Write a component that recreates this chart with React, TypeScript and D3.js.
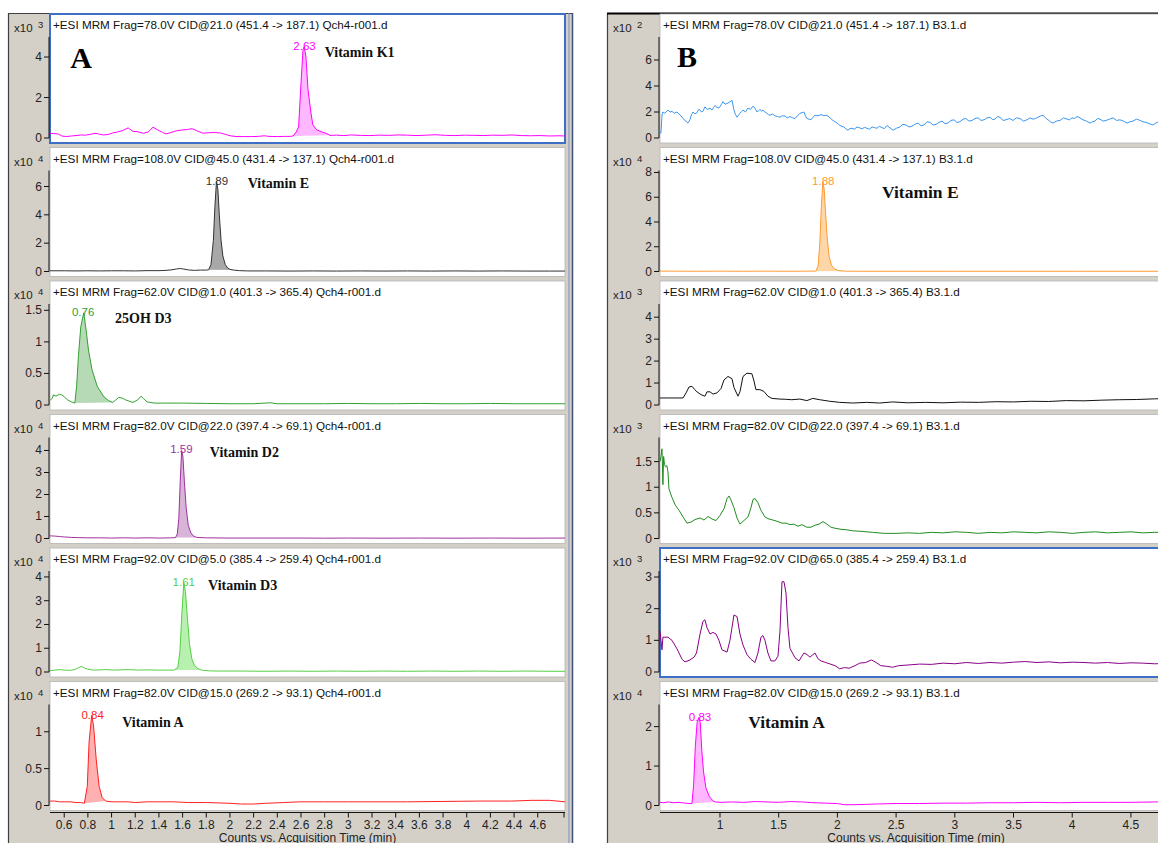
import React from 'react';
import * as d3 from 'd3';

type Pt = [number, number];

// ---------- values ----------
const headersA = [
  '+ESI MRM Frag=78.0V CID@21.0 (451.4 -> 187.1) Qch4-r001.d',
  '+ESI MRM Frag=108.0V CID@45.0 (431.4 -> 137.1) Qch4-r001.d',
  '+ESI MRM Frag=62.0V CID@1.0 (401.3 -> 365.4) Qch4-r001.d',
  '+ESI MRM Frag=82.0V CID@22.0 (397.4 -> 69.1) Qch4-r001.d',
  '+ESI MRM Frag=92.0V CID@5.0 (385.4 -> 259.4) Qch4-r001.d',
  '+ESI MRM Frag=82.0V CID@15.0 (269.2 -> 93.1) Qch4-r001.d',
];
const headersB = [
  '+ESI MRM Frag=78.0V CID@21.0 (451.4 -> 187.1) B3.1.d',
  '+ESI MRM Frag=108.0V CID@45.0 (431.4 -> 137.1) B3.1.d',
  '+ESI MRM Frag=62.0V CID@1.0 (401.3 -> 365.4) B3.1.d',
  '+ESI MRM Frag=82.0V CID@22.0 (397.4 -> 69.1) B3.1.d',
  '+ESI MRM Frag=92.0V CID@65.0 (385.4 -> 259.4) B3.1.d',
  '+ESI MRM Frag=82.0V CID@15.0 (269.2 -> 93.1) B3.1.d',
];

const expA = [3, 4, 4, 4, 4, 4];
const expB = [2, 4, 3, 3, 3, 4];
const yMaxA = [4.99, 7.13, 1.6, 4.59, 4.25, 1.37];
const yMaxB = [7.77, 8.16, 4.6, 1.97, 3.19, 2.56];
const yTicksA = [[0, 2, 4], [0, 2, 4, 6], [0, 0.5, 1, 1.5], [0, 1, 2, 3, 4], [0, 1, 2, 3, 4], [0, 0.5, 1]];
const yTicksB = [[0, 2, 4, 6], [0, 2, 4, 6, 8], [0, 1, 2, 3, 4], [0, 0.5, 1, 1.5], [0, 1, 2, 3], [0, 1, 2]];
const timeTicksA = [0.6, 0.8, 1, 1.2, 1.4, 1.6, 1.8, 2, 2.2, 2.4, 2.6, 2.8, 3, 3.2, 3.4, 3.6, 3.8, 4, 4.2, 4.4, 4.6];
const timeTicksB = [1, 1.5, 2, 2.5, 3, 3.5, 4, 4.5];

const rtA = ['2.63', '1.89', '0.76', '1.59', '1.61', '0.84'];
const windowA: Pt[] = [[2.533, 2.844], [1.82, 2.03], [0.69, 1.01], [1.54, 1.72], [1.53, 1.76], [0.77, 0.95]];
const compoundA = ['Vitamin K1', 'Vitamin E', '25OH D3', 'Vitamin D2', 'Vitamin D3', 'Vitamin A'];
const rtB = [null, '1.88', null, null, null, '0.83'];
const windowB: (Pt | null)[] = [null, [1.815, 2.06], null, null, null, [0.761, 0.96]];
const compoundB = [null, 'Vitamin E', null, null, null, 'Vitamin A'];

// counts vs time (min), y in units of the row's x10^n
const traceA1: Pt[] = [[0.48,0.23],[0.51,0.22],[0.55,0.2],[0.58,0.1],[0.62,0.07],[0.66,0.1],[0.70,0.12],[0.74,0.15],[0.78,0.14],[0.82,0.18],[0.86,0.23],[0.89,0.2],[0.93,0.15],[0.97,0.17],[1.01,0.25],[1.05,0.3],[1.09,0.36],[1.14,0.5],[1.18,0.33],[1.22,0.31],[1.27,0.23],[1.31,0.3],[1.35,0.53],[1.39,0.4],[1.43,0.28],[1.46,0.2],[1.50,0.27],[1.55,0.36],[1.60,0.4],[1.64,0.42],[1.68,0.46],[1.72,0.36],[1.77,0.24],[1.82,0.26],[1.87,0.27],[1.92,0.25],[1.96,0.18],[2.01,0.1],[2.06,0.07],[2.12,0.07],[2.18,0.07],[2.24,0.08],[2.29,0.11],[2.33,0.08],[2.40,0.07],[2.46,0.08],[2.51,0.08],[2.533,0.1],[2.56,0.3],[2.58,0.55],[2.60,2.7],[2.617,4.35],[2.628,4.5],[2.642,4.0],[2.659,2.4],[2.684,1.25],[2.70,0.65],[2.734,0.4],[2.776,0.3],[2.818,0.22],[2.844,0.13],[2.9,0.14],[2.96,0.12],[3.02,0.15],[3.1,0.13],[3.18,0.12],[3.26,0.14],[3.34,0.13],[3.42,0.15],[3.5,0.14],[3.58,0.12],[3.66,0.14],[3.74,0.16],[3.82,0.13],[3.9,0.12],[3.98,0.14],[4.06,0.13],[4.14,0.12],[4.22,0.14],[4.3,0.13],[4.38,0.15],[4.46,0.12],[4.54,0.11],[4.62,0.12],[4.7,0.1],[4.78,0.11],[4.83,0.1]];
const traceA2: Pt[] = [[0.48,0.05],[0.6,0.05],[0.7,0.04],[0.8,0.05],[0.9,0.04],[1.0,0.05],[1.1,0.05],[1.2,0.04],[1.3,0.06],[1.4,0.06],[1.46,0.08],[1.51,0.12],[1.55,0.18],[1.58,0.21],[1.61,0.17],[1.65,0.11],[1.7,0.08],[1.75,0.1],[1.8,0.1],[1.82,0.12],[1.84,0.5],[1.86,2.2],[1.873,4.6],[1.886,6.35],[1.898,5.8],[1.91,4.0],[1.925,2.2],[1.94,1.1],[1.96,0.5],[1.98,0.25],[2.0,0.15],[2.03,0.1],[2.08,0.06],[2.15,0.04],[2.3,0.04],[2.5,0.03],[2.7,0.04],[2.9,0.03],[3.1,0.04],[3.3,0.03],[3.5,0.04],[3.7,0.03],[3.9,0.04],[4.1,0.03],[4.3,0.04],[4.5,0.03],[4.7,0.03],[4.83,0.03]];
const traceA3: Pt[] = [[0.48,0.07],[0.5,0.11],[0.51,0.16],[0.53,0.14],[0.56,0.17],[0.58,0.16],[0.6,0.13],[0.63,0.08],[0.66,0.05],[0.69,0.03],[0.705,0.3],[0.72,0.77],[0.74,1.24],[0.765,1.46],[0.785,1.19],[0.805,0.87],[0.835,0.56],[0.88,0.29],[0.935,0.13],[0.975,0.07],[1.01,0.04],[1.035,0.08],[1.06,0.12],[1.09,0.11],[1.12,0.08],[1.18,0.04],[1.22,0.08],[1.25,0.14],[1.27,0.1],[1.30,0.05],[1.36,0.03],[1.45,0.03],[1.6,0.03],[1.8,0.025],[2.0,0.02],[2.2,0.02],[2.34,0.035],[2.4,0.02],[2.6,0.02],[2.8,0.02],[3.0,0.025],[3.2,0.02],[3.4,0.02],[3.6,0.025],[3.8,0.02],[4.0,0.02],[4.2,0.025],[4.4,0.02],[4.6,0.02],[4.83,0.02]];
const traceA4: Pt[] = [[0.48,0.12],[0.52,0.11],[0.56,0.09],[0.6,0.07],[0.66,0.05],[0.72,0.04],[0.8,0.03],[0.9,0.03],[1.0,0.02],[1.1,0.03],[1.2,0.02],[1.3,0.03],[1.4,0.02],[1.5,0.03],[1.54,0.04],[1.555,0.2],[1.568,0.9],[1.58,2.6],[1.592,4.0],[1.603,3.7],[1.615,2.6],[1.63,1.4],[1.648,0.6],[1.67,0.25],[1.695,0.1],[1.72,0.05],[1.8,0.03],[2.0,0.02],[2.2,0.02],[2.4,0.02],[2.6,0.02],[2.8,0.015],[3.0,0.02],[3.3,0.015],[3.6,0.02],[3.9,0.015],[4.2,0.02],[4.5,0.015],[4.83,0.02]];
const traceA5: Pt[] = [[0.48,0.06],[0.52,0.08],[0.56,0.1],[0.6,0.08],[0.65,0.07],[0.69,0.1],[0.72,0.18],[0.745,0.24],[0.77,0.17],[0.8,0.12],[0.84,0.08],[0.9,0.09],[0.96,0.1],[1.02,0.08],[1.08,0.09],[1.15,0.1],[1.22,0.08],[1.3,0.09],[1.38,0.08],[1.46,0.08],[1.53,0.08],[1.56,0.2],[1.578,0.9],[1.593,2.4],[1.61,3.75],[1.624,3.4],[1.64,2.3],[1.658,1.2],[1.678,0.55],[1.70,0.28],[1.73,0.14],[1.76,0.08],[1.82,0.05],[1.9,0.04],[2.1,0.04],[2.3,0.03],[2.5,0.04],[2.7,0.03],[2.9,0.04],[3.1,0.03],[3.3,0.04],[3.5,0.03],[3.7,0.04],[3.9,0.03],[4.1,0.04],[4.3,0.03],[4.5,0.04],[4.7,0.03],[4.83,0.03]];
const traceA6: Pt[] = [[0.48,0.06],[0.52,0.06],[0.56,0.05],[0.6,0.05],[0.65,0.05],[0.7,0.04],[0.74,0.04],[0.77,0.03],[0.795,0.26],[0.81,0.86],[0.832,1.22],[0.848,1.08],[0.87,0.63],[0.895,0.26],[0.92,0.11],[0.95,0.06],[1.0,0.05],[1.08,0.05],[1.14,0.05],[1.2,0.04],[1.3,0.05],[1.4,0.05],[1.52,0.05],[1.65,0.04],[1.8,0.04],[2.0,0.03],[2.09,0.02],[2.2,0.02],[2.3,0.03],[2.45,0.04],[2.59,0.05],[2.8,0.05],[3.0,0.05],[3.2,0.05],[3.5,0.05],[3.8,0.055],[4.1,0.06],[4.38,0.06],[4.55,0.07],[4.7,0.07],[4.83,0.05]];

const traceB1: Pt[] = [[0.489,0.4],[0.497,0.38],[0.506,1.77],[0.514,2.0],[0.53,1.9],[0.557,2.15],[0.575,2.0],[0.591,2.05],[0.61,1.9],[0.634,2.0],[0.65,1.85],[0.668,1.7],[0.685,1.5],[0.702,1.35],[0.727,1.15],[0.744,1.4],[0.757,1.8],[0.77,2.0],[0.787,1.85],[0.804,1.95],[0.818,2.2],[0.83,2.15],[0.843,2.0],[0.855,2.05],[0.872,2.4],[0.885,2.25],[0.898,2.2],[0.915,2.3],[0.932,2.15],[0.945,2.35],[0.957,2.5],[0.975,2.35],[0.991,2.3],[1.01,2.55],[1.026,2.8],[1.043,2.6],[1.06,2.65],[1.08,2.75],[1.102,2.9],[1.119,2.15],[1.132,1.8],[1.145,1.6],[1.158,1.75],[1.17,1.9],[1.185,2.05],[1.196,2.15],[1.217,2.0],[1.238,2.3],[1.26,2.2],[1.281,2.45],[1.298,2.3],[1.315,2.0],[1.33,2.1],[1.341,2.2],[1.355,2.05],[1.366,2.15],[1.383,2.0],[1.4,1.9],[1.413,1.8],[1.426,1.75],[1.447,1.85],[1.468,1.7],[1.49,1.65],[1.511,1.6],[1.532,1.72],[1.554,1.68],[1.575,1.55],[1.596,1.65],[1.618,1.55],[1.639,1.5],[1.66,1.7],[1.681,1.9],[1.7,1.95],[1.716,2.0],[1.728,1.7],[1.741,1.5],[1.758,1.45],[1.775,1.4],[1.792,1.6],[1.809,1.75],[1.835,1.7],[1.86,1.8],[1.885,1.72],[1.911,1.75],[1.937,1.55],[1.962,1.35],[1.98,1.25],[1.997,1.15],[2.01,1.05],[2.022,0.96],[2.04,0.9],[2.056,0.85],[2.073,0.7],[2.09,0.6],[2.107,0.72],[2.124,0.75],[2.145,0.68],[2.167,0.85],[2.19,0.78],[2.21,0.7],[2.23,0.82],[2.252,0.75],[2.273,0.68],[2.295,0.85],[2.316,0.8],[2.337,0.75],[2.358,0.9],[2.38,0.8],[2.4,0.72],[2.422,0.96],[2.448,0.78],[2.474,0.6],[2.503,0.75],[2.533,0.85],[2.558,1.05],[2.584,1.0],[2.61,0.85],[2.635,0.9],[2.66,1.05],[2.687,1.15],[2.712,0.95],[2.738,1.0],[2.763,1.25],[2.789,1.2],[2.815,1.0],[2.84,1.05],[2.865,1.2],[2.891,1.3],[2.917,1.1],[2.942,1.15],[2.968,1.35],[2.993,1.4],[3.018,1.2],[3.044,1.25],[3.07,1.45],[3.095,1.5],[3.12,1.3],[3.147,1.35],[3.172,1.5],[3.198,1.55],[3.223,1.35],[3.249,1.4],[3.275,1.55],[3.3,1.6],[3.32,1.42],[3.342,1.45],[3.363,1.65],[3.385,1.6],[3.41,1.35],[3.436,1.4],[3.466,1.5],[3.496,1.35],[3.525,1.55],[3.555,1.5],[3.585,1.3],[3.615,1.4],[3.64,1.55],[3.666,1.45],[3.688,1.5],[3.709,1.6],[3.73,1.7],[3.751,1.75],[3.772,1.55],[3.794,1.4],[3.815,1.25],[3.836,1.15],[3.866,1.3],[3.896,1.35],[3.926,1.55],[3.956,1.45],[3.977,1.4],[3.998,1.55],[4.02,1.5],[4.041,1.65],[4.066,1.55],[4.092,1.4],[4.122,1.3],[4.152,1.15],[4.173,1.25],[4.194,1.3],[4.215,1.5],[4.237,1.45],[4.262,1.3],[4.288,1.35],[4.318,1.45],[4.348,1.55],[4.378,1.35],[4.407,1.4],[4.437,1.3],[4.467,1.15],[4.492,1.25],[4.518,1.3],[4.548,1.45],[4.578,1.35],[4.603,1.25],[4.629,1.2],[4.658,1.1],[4.688,1.0],[4.705,1.1],[4.722,1.2],[4.745,1.25],[4.765,1.1],[4.85,1.15]];
const traceB2: Pt[] = [[0.489,0.03],[0.6,0.03],[0.8,0.02],[1.0,0.03],[1.2,0.02],[1.4,0.03],[1.6,0.02],[1.75,0.03],[1.815,0.03],[1.835,0.4],[1.85,2.2],[1.863,5.2],[1.876,7.25],[1.888,6.6],[1.9,4.6],[1.915,2.5],[1.93,1.2],[1.95,0.5],[1.975,0.2],[2.01,0.08],[2.06,0.03],[2.2,0.02],[2.5,0.02],[3.0,0.02],[3.5,0.02],[4.0,0.02],[4.5,0.02],[4.85,0.02]];
const traceB3: Pt[] = [[0.489,0.32],[0.507,0.32],[0.55,0.32],[0.6,0.32],[0.65,0.32],[0.685,0.32],[0.711,0.55],[0.736,0.82],[0.762,0.85],[0.785,0.7],[0.804,0.6],[0.83,0.5],[0.847,0.45],[0.872,0.4],[0.889,0.6],[0.915,0.6],[0.94,0.5],[0.974,0.55],[1.009,0.75],[1.034,1.14],[1.068,1.3],[1.102,1.2],[1.119,0.8],[1.153,0.4],[1.17,0.6],[1.196,1.3],[1.23,1.45],[1.272,1.42],[1.289,1.1],[1.306,0.7],[1.34,0.7],[1.374,0.62],[1.408,0.4],[1.442,0.3],[1.51,0.27],[1.56,0.26],[1.612,0.24],[1.68,0.27],[1.74,0.2],[1.79,0.3],[1.85,0.24],[1.935,0.17],[2.02,0.12],[2.13,0.09],[2.25,0.12],[2.36,0.09],[2.47,0.14],[2.6,0.1],[2.75,0.12],[2.9,0.1],[3.05,0.13],[3.2,0.12],[3.35,0.15],[3.5,0.14],[3.65,0.17],[3.8,0.16],[3.95,0.2],[4.1,0.19],[4.25,0.22],[4.4,0.24],[4.55,0.25],[4.7,0.28],[4.85,0.3]];
const traceB4: Pt[] = [[0.489,1.5],[0.497,1.6],[0.506,1.75],[0.514,1.05],[0.52,1.6],[0.527,1.45],[0.535,1.4],[0.548,1.42],[0.557,1.3],[0.565,0.97],[0.591,0.8],[0.62,0.65],[0.651,0.55],[0.685,0.42],[0.719,0.3],[0.753,0.32],[0.787,0.37],[0.83,0.4],[0.864,0.36],[0.898,0.43],[0.932,0.38],[0.966,0.35],[1.0,0.45],[1.034,0.58],[1.06,0.78],[1.077,0.83],[1.094,0.75],[1.119,0.6],[1.145,0.4],[1.17,0.28],[1.204,0.35],[1.238,0.42],[1.264,0.6],[1.281,0.76],[1.298,0.78],[1.323,0.7],[1.349,0.55],[1.383,0.42],[1.417,0.38],[1.451,0.36],[1.494,0.33],[1.528,0.3],[1.562,0.3],[1.596,0.27],[1.63,0.28],[1.664,0.24],[1.698,0.27],[1.741,0.22],[1.775,0.22],[1.809,0.26],[1.843,0.28],[1.877,0.33],[1.911,0.28],[1.945,0.22],[1.98,0.2],[2.03,0.18],[2.08,0.17],[2.13,0.15],[2.2,0.14],[2.3,0.12],[2.4,0.1],[2.5,0.1],[2.6,0.11],[2.7,0.1],[2.8,0.12],[2.9,0.11],[3.0,0.13],[3.1,0.12],[3.2,0.1],[3.3,0.12],[3.4,0.11],[3.5,0.13],[3.6,0.12],[3.7,0.11],[3.8,0.13],[3.9,0.12],[4.0,0.1],[4.1,0.12],[4.2,0.13],[4.3,0.11],[4.4,0.12],[4.5,0.13],[4.6,0.11],[4.7,0.12],[4.85,0.12]];
const traceB5: Pt[] = [[0.489,1.3],[0.497,1.0],[0.506,0.7],[0.514,1.1],[0.53,1.1],[0.557,1.1],[0.591,1.0],[0.634,0.73],[0.677,0.4],[0.702,0.32],[0.744,0.38],[0.779,0.47],[0.8,0.6],[0.83,1.2],[0.855,1.6],[0.872,1.65],[0.889,1.4],[0.915,1.2],[0.94,1.25],[0.966,1.2],[0.991,1.0],[1.017,0.7],[1.06,0.63],[1.085,1.0],[1.119,1.8],[1.145,1.75],[1.17,1.2],[1.196,0.85],[1.23,0.55],[1.264,0.4],[1.298,0.3],[1.323,0.6],[1.349,1.1],[1.366,1.15],[1.383,1.0],[1.408,0.6],[1.434,0.35],[1.468,0.35],[1.494,0.5],[1.511,1.3],[1.528,2.85],[1.545,2.85],[1.562,2.5],[1.579,1.4],[1.596,0.75],[1.639,0.45],[1.673,0.35],[1.698,0.5],[1.715,0.6],[1.741,0.55],[1.766,0.47],[1.792,0.55],[1.809,0.6],[1.834,0.42],[1.86,0.35],[1.9,0.3],[1.94,0.25],[1.98,0.2],[2.02,0.1],[2.06,0.14],[2.1,0.12],[2.15,0.2],[2.19,0.28],[2.24,0.3],[2.29,0.38],[2.33,0.3],[2.37,0.2],[2.42,0.18],[2.47,0.15],[2.52,0.2],[2.6,0.22],[2.7,0.25],[2.8,0.24],[2.9,0.28],[3.0,0.26],[3.1,0.3],[3.2,0.27],[3.3,0.3],[3.4,0.28],[3.5,0.31],[3.6,0.33],[3.7,0.3],[3.8,0.32],[3.9,0.29],[4.0,0.31],[4.1,0.3],[4.2,0.28],[4.3,0.3],[4.4,0.27],[4.5,0.29],[4.6,0.28],[4.7,0.26],[4.85,0.27]];
const traceB6: Pt[] = [[0.489,0.08],[0.52,0.07],[0.56,0.09],[0.6,0.07],[0.65,0.08],[0.7,0.06],[0.74,0.05],[0.761,0.05],[0.775,0.5],[0.79,1.5],[0.805,2.1],[0.82,2.23],[0.832,2.1],[0.845,1.4],[0.86,0.85],[0.88,0.45],[0.91,0.22],[0.94,0.12],[0.96,0.09],[1.0,0.08],[1.1,0.09],[1.2,0.08],[1.3,0.1],[1.4,0.09],[1.5,0.08],[1.6,0.1],[1.7,0.09],[1.8,0.07],[1.9,0.06],[2.0,0.05],[2.06,0.02],[2.15,0.02],[2.25,0.03],[2.35,0.04],[2.5,0.05],[2.7,0.05],[2.9,0.06],[3.1,0.06],[3.3,0.07],[3.5,0.07],[3.7,0.08],[3.9,0.07],[4.1,0.08],[4.3,0.08],[4.5,0.08],[4.7,0.09],[4.85,0.09]];

const tracesA = [traceA1, traceA2, traceA3, traceA4, traceA5, traceA6];
const tracesB = [traceB1, traceB2, traceB3, traceB4, traceB5, traceB6];

// ---------- styles / layout ----------
const lineA = ['#ff00ff', '#333333', '#33a033', '#a0309f', '#55d044', '#ff2020'];
const fillA = ['#ffb8ff', '#a8a8a8', '#b5dab5', '#d8b4d8', '#b8f0b0', '#ffb0b0'];
const lineB = ['#3a96f0', '#ff9a30', '#111111', '#218c21', '#880088', '#ff00ff'];
const fillB = [null, '#ffd6a8', null, null, null, '#ffb8ff'];
// where the compound names sit, in row data units [time, value]
const compoundAtA: Pt[] = [[2.8, 4.0], [2.15, 5.9], [1.03, 1.3], [1.83, 3.7], [1.815, 3.45], [1.09, 1.07]];
const compoundAtB: (Pt | null)[] = [null, [2.38, 5.94], null, null, null, [1.24, 1.96]];

const W = 1158, H = 843;
const ROW0 = 13, STEP = 133.5;
const GRAY = '#d4d0c8';
const SANS = '"Liberation Sans", Arial, sans-serif';
const SERIF = '"Liberation Serif", "Times New Roman", serif';

const panelA = {key: 'A', frameX: 8, frameR: 573, left: 50, right: 565, domain: [0.48, 4.83], ticks: timeTicksA, selected: 0, cSize: 14, letterAt: [0.65, 3.46] as Pt};
const panelB = {key: 'B', frameX: 607, frameR: W + 4, left: 660, right: 1172, domain: [0.489, 4.85], ticks: timeTicksB, selected: 4, cSize: 17.5, letterAt: [0.634, 5.46] as Pt};

function Row(props: any) {
  const {p, i, header, exp, yMax, ticks, trace, stroke, fill, rt, win, compound, at} = props;
  const top = ROW0 + i * STEP;
  const base = top + 125;
  const x = d3.scaleLinear().domain(p.domain).range([p.left, p.right]);
  const y = d3.scaleLinear().domain([0, yMax]).range([base, top + 24]);
  const line = d3.line<Pt>().x(d => x(d[0])).y(d => y(d[1]));
  const clipId = 'clip' + p.key + i;
  const wRight = Math.min(p.right, W + 2);
  const selected = p.selected === i;

  //integrated peak: trace inside the window closed with a straight baseline
  let peakPath: string | null = null;
  let apex: Pt | undefined;
  if (win) {
    const pts = trace.filter((d: Pt) => d[0] >= win[0] && d[0] <= win[1]);
    peakPath = line(pts) + 'Z';
    apex = d3.greatest(pts, (d: Pt) => d[1]);
  }

  return (
    <g>
      <clipPath id={clipId}>
        <rect x={p.left} y={top + 1} width={wRight - p.left} height={129} />
      </clipPath>
      <rect x={p.left} y={top + 1} width={wRight - p.left} height={129} fill="#fff"
        stroke={selected ? '#3d6fc6' : '#b4b4b4'} strokeWidth={selected ? 2 : 0.8} />
      <text x={p.left + 3} y={top + 16} fontSize={11.7} fill="#111">{header}</text>

      {/* y axis */}
      <text x={p.frameX + 6} y={top + 19} fontSize={11.5} fill="#222">x10</text>
      <text x={p.frameX + 30} y={top + 15} fontSize={9.5} fill="#222">{exp}</text>
      <line x1={p.left - 1} x2={p.left - 1} y1={top + 24} y2={base} stroke="#111" />
      {ticks.map((t: number) => (
        <g key={t}>
          <line x1={p.left - 6} x2={p.left - 1} y1={y(t)} y2={y(t)} stroke="#111" />
          <text x={p.left - 8} y={y(t) + 4} fontSize={12} textAnchor="end" fill="#222">{String(t)}</text>
        </g>
      ))}

      <g clipPath={`url(#${clipId})`}>
        {peakPath && <path d={peakPath} fill={fill} stroke="none" />}
        <path d={line(trace) || ''} fill="none" stroke={stroke} strokeWidth={1} />
        {apex && (
          <text x={x(+rt)} y={y(apex[1]) + 3} fontSize={11.5} textAnchor="middle" fill={stroke}>{rt}</text>
        )}
        {compound && (
          <text x={x(at[0])} y={y(at[1])} fontSize={p.cSize} fontWeight="bold" fontFamily={SERIF} fill="#111">{compound}</text>
        )}
        {i === 0 && (
          <text x={x(p.letterAt[0])} y={y(p.letterAt[1])} fontSize={30} fontWeight="bold" fontFamily={SERIF} fill="#000">{p.key}</text>
        )}
      </g>
    </g>
  );
}

function Panel({p, headers, exps, yMaxes, yTicks, traces, lines, fills, rts, wins, compounds, ats}: any) {
  const x = d3.scaleLinear().domain(p.domain).range([p.left, p.right]);
  const axisY = 812.5;
  return (
    <g>
      <rect x={p.frameX} y={13} width={p.frameR - p.frameX} height={H - 13} fill={GRAY} />
      <line x1={p.frameX + 0.5} x2={p.frameX + 0.5} y1={13} y2={H} stroke="#404040" strokeWidth={1.2} />
      <line x1={p.frameX} x2={p.frameR} y1={13.5} y2={13.5} stroke={p.key === 'B' ? '#000' : '#404040'} strokeWidth={p.key === 'B' ? 2 : 1.2} />
      {headers.map((h: string, i: number) => (
        <Row key={i} p={p} i={i} header={h} exp={exps[i]} yMax={yMaxes[i]} ticks={yTicks[i]} trace={traces[i]}
          stroke={lines[i]} fill={fills[i]} rt={rts[i]} win={wins[i]} compound={compounds[i]} at={ats[i]} />
      ))}
      {/* time axis */}
      <line x1={p.left} x2={Math.min(p.right, W)} y1={axisY} y2={axisY} stroke="#111" />
      {p.ticks.map((t: number) => (
        <g key={t}>
          <line x1={x(t)} x2={x(t)} y1={axisY} y2={axisY + 5} stroke="#111" />
          <text x={x(t)} y={axisY + 16} fontSize={12} textAnchor="middle" fill="#222">{String(t)}</text>
        </g>
      ))}
      {p.key === 'A' && <line x1={p.right - 1} x2={p.right - 1} y1={axisY} y2={axisY + 5} stroke="#111" />}
      <text x={(p.left + p.right) / 2} y={axisY + 29} fontSize={12} textAnchor="middle" fill="#222">
        Counts vs. Acquisition Time (min)
      </text>
    </g>
  );
}

export default function App() {
  return (
    <svg width={W} height={H} style={{position: 'absolute', left: 0, top: 0, display: 'block', fontFamily: SANS}}>
      <rect width={W} height={H} fill="#fff" />
      <Panel p={panelA} headers={headersA} exps={expA} yMaxes={yMaxA} yTicks={yTicksA} traces={tracesA}
        lines={lineA} fills={fillA} rts={rtA} wins={windowA} compounds={compoundA} ats={compoundAtA} />
      {/* double border on the right of panel A */}
      <line x1={569} x2={569} y1={13} y2={H} stroke="#7d8fbd" strokeWidth={1} />
      <line x1={572.5} x2={572.5} y1={13} y2={H} stroke="#3e527e" strokeWidth={1.5} />
      <Panel p={panelB} headers={headersB} exps={expB} yMaxes={yMaxB} yTicks={yTicksB} traces={tracesB}
        lines={lineB} fills={fillB} rts={rtB} wins={windowB} compounds={compoundB} ats={compoundAtB} />
    </svg>
  );
}
